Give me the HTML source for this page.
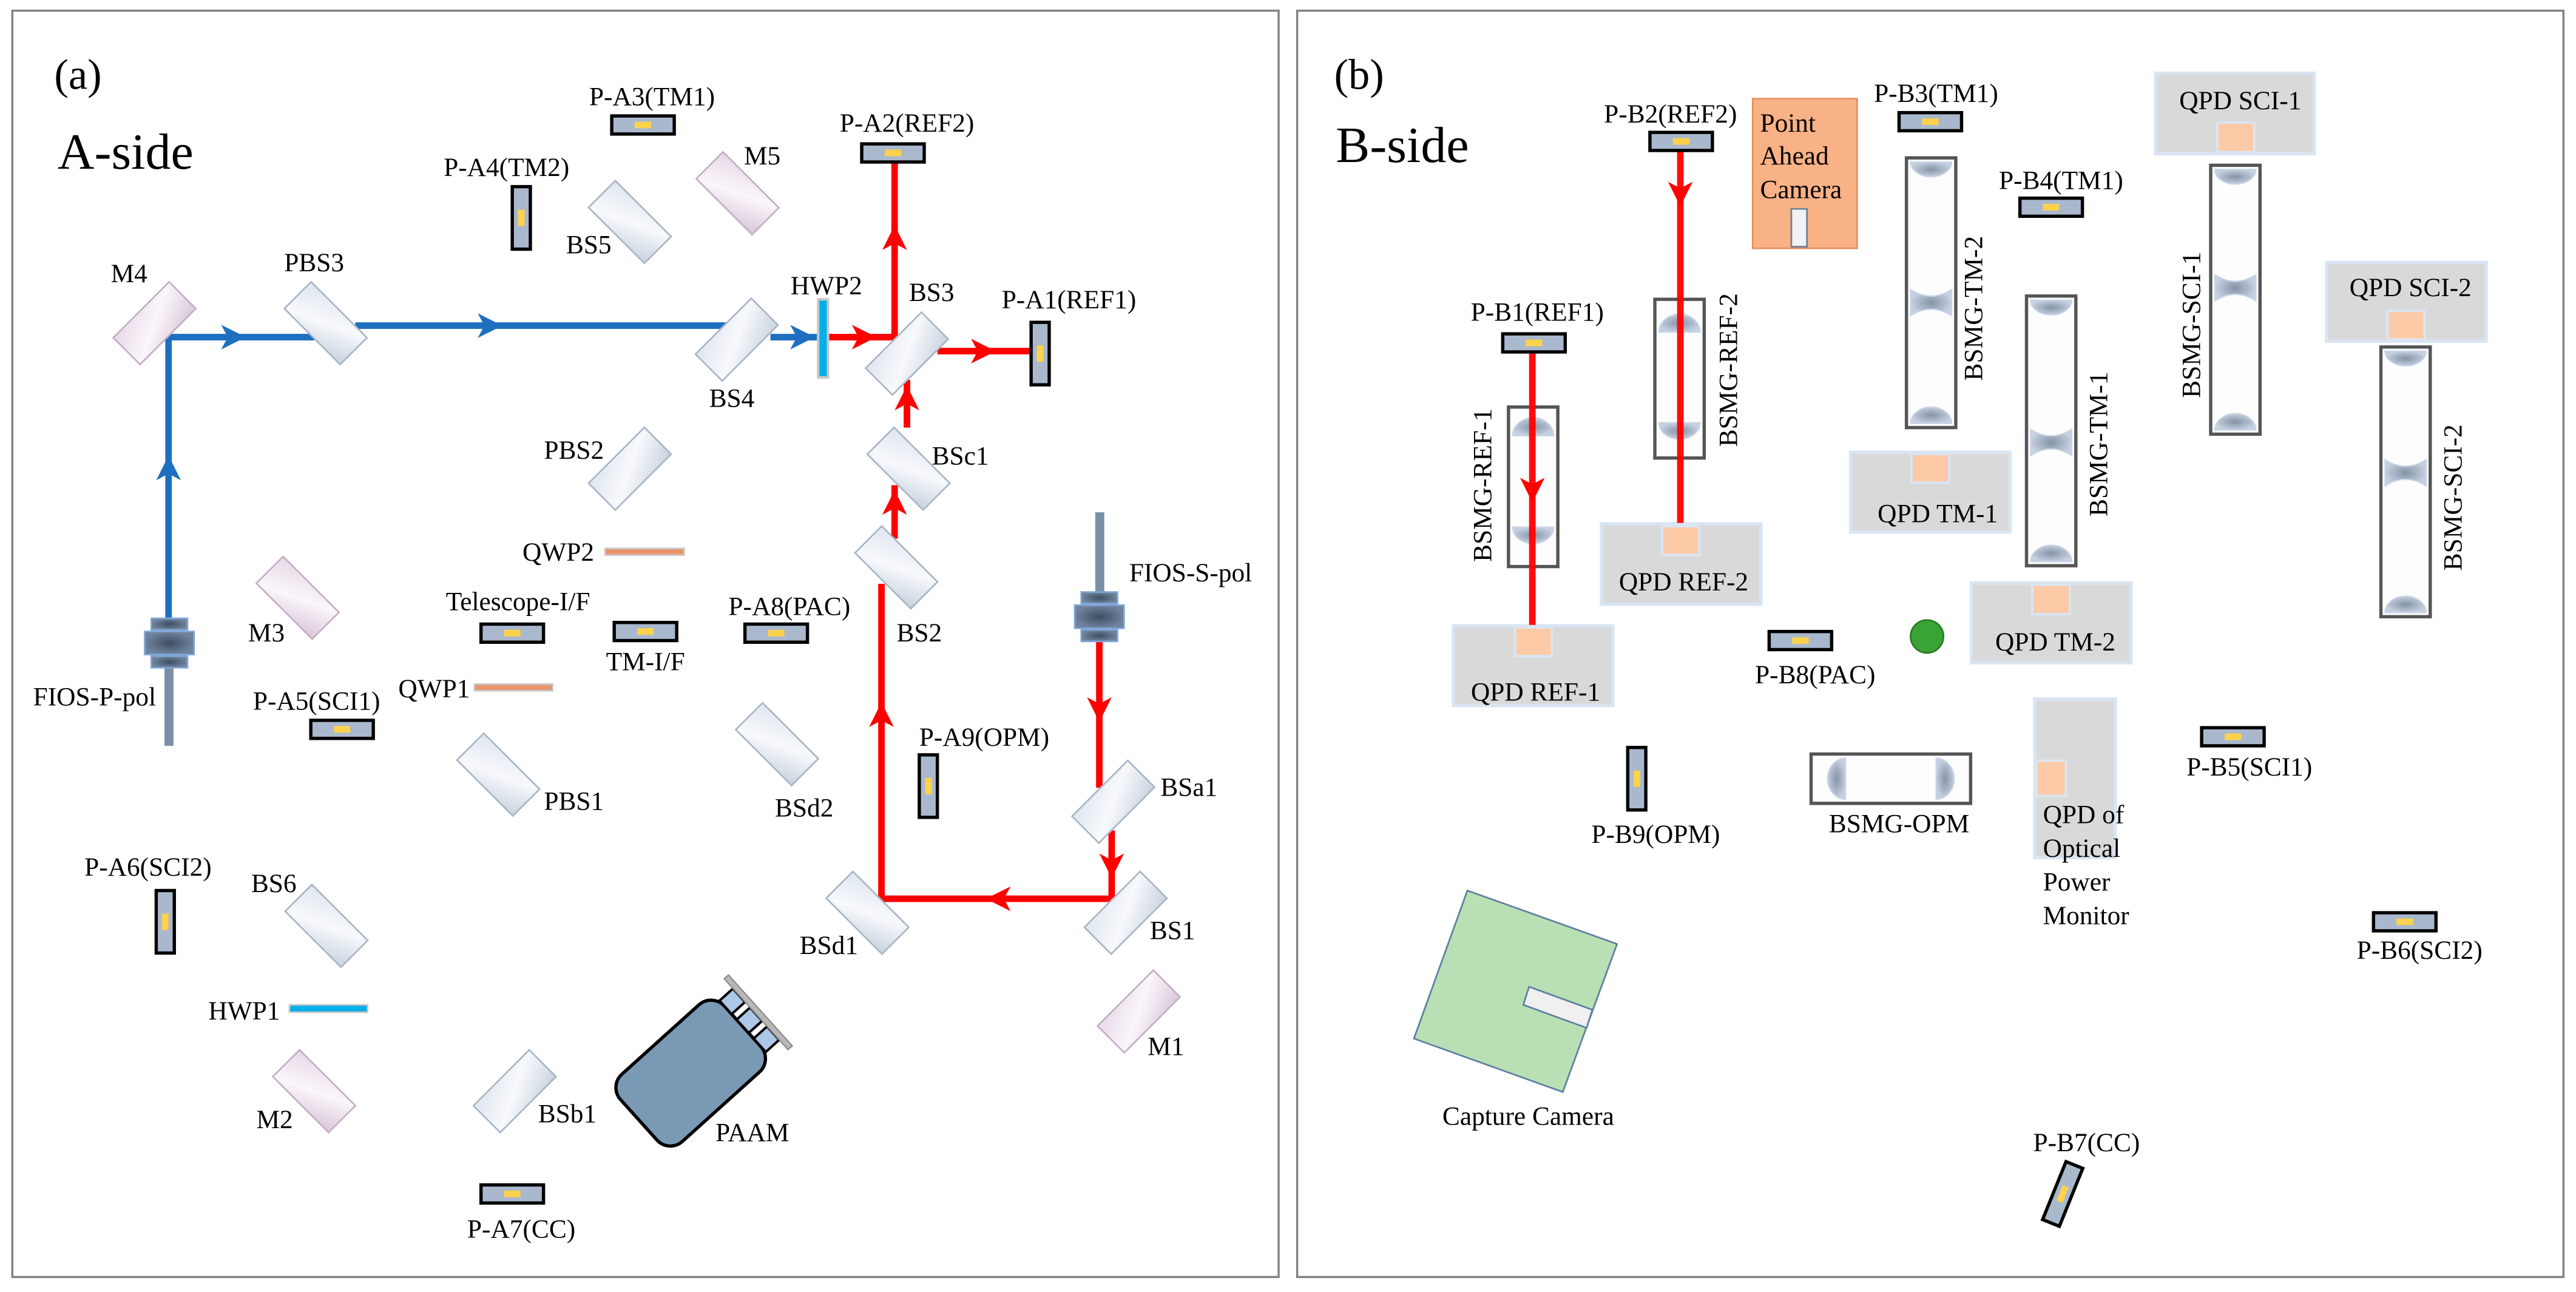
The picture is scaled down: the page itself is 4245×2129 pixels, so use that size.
<!DOCTYPE html>
<html><head><meta charset="utf-8"><style>html,body{margin:0;padding:0;background:#fff}svg{display:block}svg text{font-family:"Liberation Serif","Times New Roman",Times,"DejaVu Serif",serif !important}</style></head>
<body>
<svg xmlns="http://www.w3.org/2000/svg" xmlns:xlink="http://www.w3.org/1999/xlink" width="4245" height="2129" viewBox="0 0 4245 2129">
<defs>
<linearGradient id="mg" x1="0" y1="0" x2="1" y2="1"><stop offset="0" stop-color="#dfe6ef"/><stop offset="0.5" stop-color="#f7f9fc"/><stop offset="1" stop-color="#c9d3df"/></linearGradient>
<linearGradient id="pg" x1="0" y1="0" x2="1" y2="1"><stop offset="0" stop-color="#e6d8e6"/><stop offset="0.5" stop-color="#fbf6fb"/><stop offset="1" stop-color="#d8c6d8"/></linearGradient>
<radialGradient id="lg"><stop offset="0" stop-color="#8593a8"/><stop offset="1" stop-color="#c5d0e0"/></radialGradient>
<radialGradient id="cg"><stop offset="0" stop-color="#3d4e63"/><stop offset="1" stop-color="#6f849c"/></radialGradient>
<polygon id="ar" points="16,0 -14,-15 -6,0 -14,15"/>
<rect id="bs" x="-48" y="-23" width="96" height="46" fill="url(#mg)" stroke="#a9b6c6" stroke-width="2"/>
<rect id="mm" x="-48" y="-23" width="96" height="46" fill="url(#pg)" stroke="#c4afc4" stroke-width="2"/>
<g id="dh"><rect x="-38" y="-11" width="76" height="22" fill="#a9b8cc" stroke="#000" stroke-width="4"/><rect x="-10" y="-4" width="20" height="8" fill="#ffd24d"/></g>
<g id="dv"><rect x="-11" y="-38" width="22" height="76" fill="#a9b8cc" stroke="#000" stroke-width="4"/><rect x="-4" y="-10" width="8" height="20" fill="#ffd24d"/></g>
</defs>
<rect width="4245" height="2129" fill="#fff"/>

<g transform="scale(1.355)" font-size="32" fill="#000" font-family="Liberation Serif, Times New Roman, serif" style="font-family:'Liberation Serif','Times New Roman',serif">
<rect x="15" y="13" width="1540" height="1540" fill="none" stroke="#808080" stroke-width="2.5"/>
<text x="66" y="108" font-size="52">(a)</text>
<text x="70" y="205" font-size="62">A-side</text>

<g stroke="#1f6fc0" stroke-width="8" fill="none">
<path d="M205,752 V410 H382"/>
<path d="M432,396 H883"/>
<path d="M937,410 H1000"/>
</g>
<g fill="#1f6fc0">
<use xlink:href="#ar" transform="translate(205,570) rotate(-90)"/>
<use xlink:href="#ar" transform="translate(283,410)"/>
<use xlink:href="#ar" transform="translate(595,396)"/>
<use xlink:href="#ar" transform="translate(975,410)"/>
</g>
<g stroke="#ff0000" stroke-width="8" fill="none">
<path d="M1005,410 H1088 V197"/>
<path d="M1140,427 H1253"/>
<path d="M1103,520 V462"/>
<path d="M1088,655 V590"/>
<path d="M1072,710 V1093 H1352 V1010"/>
<path d="M1337,780 V958"/>
</g>
<g fill="#ff0000">
<use xlink:href="#ar" transform="translate(1050,410)"/>
<use xlink:href="#ar" transform="translate(1088,290) rotate(-90)"/>
<use xlink:href="#ar" transform="translate(1195,427)"/>
<use xlink:href="#ar" transform="translate(1103,485) rotate(-90)"/>
<use xlink:href="#ar" transform="translate(1088,612) rotate(-90)"/>
<use xlink:href="#ar" transform="translate(1072,870) rotate(-90)"/>
<use xlink:href="#ar" transform="translate(1215,1093) rotate(180)"/>
<use xlink:href="#ar" transform="translate(1337,862) rotate(90)"/>
<use xlink:href="#ar" transform="translate(1352,1052) rotate(90)"/>
</g>

<rect x="200" y="790" width="11" height="117" fill="#7a90a8"/>
<g transform="translate(206,782)"><rect x="-22" y="-30" width="44" height="14" fill="url(#cg)" stroke="#7fa5d8" stroke-width="2"/><rect x="-30" y="-14" width="60" height="28" fill="url(#cg)" stroke="#7fa5d8" stroke-width="2"/><rect x="-22" y="16" width="44" height="14" fill="url(#cg)" stroke="#7fa5d8" stroke-width="2"/></g>
<rect x="1332" y="623" width="11" height="100" fill="#7a90a8"/>
<g transform="translate(1337,750)"><rect x="-22" y="-30" width="44" height="14" fill="url(#cg)" stroke="#7fa5d8" stroke-width="2"/><rect x="-30" y="-14" width="60" height="28" fill="url(#cg)" stroke="#7fa5d8" stroke-width="2"/><rect x="-22" y="16" width="44" height="14" fill="url(#cg)" stroke="#7fa5d8" stroke-width="2"/></g>

<use xlink:href="#mm" transform="translate(897,235) rotate(45)"/>
<use xlink:href="#bs" transform="translate(766,270) rotate(45)"/>
<use xlink:href="#mm" transform="translate(188,393) rotate(-45)"/>
<use xlink:href="#bs" transform="translate(396,393) rotate(45)"/>
<use xlink:href="#bs" transform="translate(896,413) rotate(-45)"/>
<use xlink:href="#bs" transform="translate(1103,430) rotate(-45)"/>
<use xlink:href="#bs" transform="translate(766,570) rotate(-45)"/>
<use xlink:href="#bs" transform="translate(1105,570) rotate(45)"/>
<use xlink:href="#mm" transform="translate(362,727) rotate(45)"/>
<use xlink:href="#bs" transform="translate(1090,690) rotate(45)"/>
<use xlink:href="#bs" transform="translate(606,942) rotate(45)"/>
<use xlink:href="#bs" transform="translate(945,905) rotate(45)"/>
<use xlink:href="#bs" transform="translate(1354,975) rotate(-45)"/>
<use xlink:href="#bs" transform="translate(397,1126) rotate(45)"/>
<use xlink:href="#bs" transform="translate(1055,1110) rotate(45)"/>
<use xlink:href="#bs" transform="translate(1369,1110) rotate(-45)"/>
<use xlink:href="#mm" transform="translate(1385,1230) rotate(-45)"/>
<use xlink:href="#mm" transform="translate(382,1327) rotate(45)"/>
<use xlink:href="#bs" transform="translate(626,1327) rotate(-45)"/>

<rect x="995" y="364" width="12" height="95" fill="#00b0ea" stroke="#c8c8c8" stroke-width="3"/>
<rect x="352" y="1222" width="95" height="9" fill="#00b0ea" stroke="#c8c8c8" stroke-width="2"/>
<rect x="736" y="667" width="96" height="8" fill="#e8946a" stroke="#c8c8c8" stroke-width="2"/>
<rect x="577" y="832" width="95" height="8" fill="#e8946a" stroke="#c8c8c8" stroke-width="2"/>

<use xlink:href="#dh" transform="translate(782,152)"/>
<use xlink:href="#dh" transform="translate(1086,186)"/>
<use xlink:href="#dv" transform="translate(634,265)"/>
<use xlink:href="#dv" transform="translate(1265,430)"/>
<use xlink:href="#dh" transform="translate(623,770)"/>
<use xlink:href="#dh" transform="translate(785,768)"/>
<use xlink:href="#dh" transform="translate(944,770)"/>
<use xlink:href="#dh" transform="translate(416,887)"/>
<use xlink:href="#dv" transform="translate(1129,956)"/>
<use xlink:href="#dv" transform="translate(201,1121)"/>
<use xlink:href="#dh" transform="translate(623,1452)"/>

<g transform="translate(840,1305) rotate(-42)">
<rect x="-85" y="-55" width="170" height="110" rx="22" fill="#7a99b5" stroke="#000" stroke-width="4"/>
<g transform="translate(85,0)" stroke="#000" stroke-width="3" fill="#adc7e6">
<rect x="0" y="-42" width="22" height="22"/><rect x="0" y="-11" width="22" height="22"/><rect x="0" y="20" width="22" height="22"/>
</g>
<rect x="107" y="-58" width="7" height="116" fill="#b8b8b8" stroke="#888" stroke-width="1.5"/>
</g>

<g text-anchor="middle">
<text x="793" y="128">P-A3(TM1)</text>
<text x="1103" y="160">P-A2(REF2)</text>
<text x="616" y="214">P-A4(TM2)</text>
<text x="927" y="200">M5</text>
<text x="716" y="308">BS5</text>
<text x="157" y="343">M4</text>
<text x="382" y="330">PBS3</text>
<text x="890" y="495">BS4</text>
<text x="1005" y="358">HWP2</text>
<text x="1133" y="366">BS3</text>
<text x="1300" y="375">P-A1(REF1)</text>
<text x="698" y="558">PBS2</text>
<text x="1168" y="565">BSc1</text>
<text x="679" y="682">QWP2</text>
<text x="324" y="780">M3</text>
<text x="1118" y="780">BS2</text>
<text x="1448" y="707">FIOS-S-pol</text>
<text x="630" y="742">Telescope-I/F</text>
<text x="785" y="815">TM-I/F</text>
<text x="960" y="748">P-A8(PAC)</text>
<text x="115" y="858">FIOS-P-pol</text>
<text x="385" y="863">P-A5(SCI1)</text>
<text x="528" y="848">QWP1</text>
<text x="698" y="985">PBS1</text>
<text x="978" y="993">BSd2</text>
<text x="1197" y="907">P-A9(OPM)</text>
<text x="1446" y="968">BSa1</text>
<text x="180" y="1065">P-A6(SCI2)</text>
<text x="333" y="1085">BS6</text>
<text x="1008" y="1160">BSd1</text>
<text x="1426" y="1142">BS1</text>
<text x="297" y="1240">HWP1</text>
<text x="1418" y="1283">M1</text>
<text x="334" y="1372">M2</text>
<text x="690" y="1365">BSb1</text>
<text x="915" y="1388">PAAM</text>
<text x="634" y="1505">P-A7(CC)</text>
</g>
</g>

<g transform="translate(2120,0) scale(1.355)" font-size="32" fill="#000" font-family="Liberation Serif, Times New Roman, serif" style="font-family:'Liberation Serif','Times New Roman',serif">
<rect x="13" y="13" width="1540" height="1540" fill="none" stroke="#808080" stroke-width="2.5"/>
<text x="58" y="108" font-size="52">(b)</text>
<text x="60" y="197" font-size="62">B-side</text>

<g fill="#d9d9d9" stroke="#dae5f3" stroke-width="4">
<rect x="1057" y="89" width="193" height="98"/>
<rect x="1265" y="319" width="194" height="96"/>
<rect x="383" y="637" width="194" height="98"/>
<rect x="686" y="550" width="194" height="97"/>
<rect x="203" y="761" width="194" height="97"/>
<rect x="833" y="709" width="194" height="97"/>
<rect x="910" y="850" width="98" height="193"/>
</g>
<g fill="#fdcaa8" stroke="#dae5f3" stroke-width="3">
<rect x="1132" y="149" width="45" height="36"/>
<rect x="1339" y="378" width="45" height="35"/>
<rect x="457" y="640" width="45" height="35"/>
<rect x="760" y="552" width="46" height="35"/>
<rect x="278" y="763" width="45" height="35"/>
<rect x="907" y="711" width="46" height="36"/>
<rect x="912" y="925" width="36" height="43"/>
</g>

<rect x="567" y="120" width="127" height="182" fill="#f9b186" stroke="#e58f5f" stroke-width="2"/>
<rect x="614" y="254" width="19" height="46" fill="#f2f2f2" stroke="#6f8096" stroke-width="2"/>
<text x="576" y="160">Point</text><text x="576" y="200">Ahead</text><text x="576" y="241">Camera</text>

<g fill="#fdfdfe" stroke="#555" stroke-width="4">
<rect x="754" y="192" width="60" height="328"/>
<rect x="900" y="360" width="60" height="328"/>
<rect x="1124" y="201" width="60" height="327"/>
<rect x="1331" y="422" width="60" height="328"/>
<rect x="270" y="495" width="60" height="194"/>
<rect x="448" y="364" width="60" height="193"/>
<rect x="638" y="917" width="194" height="60"/>
</g>
<g fill="url(#lg)" stroke="#c9d6e6" stroke-width="1.5">
<path d="M759,197 H809 A25,18 0 0 1 759,197Z"/>
<path d="M759,352 Q784,368 809,352 V384 Q784,368 759,384Z"/>
<path d="M759,515 A25,20 0 0 1 809,515Z"/>
<path d="M905,365 H955 A25,18 0 0 1 905,365Z"/>
<path d="M905,522 Q930,538 955,522 V554 Q930,538 905,554Z"/>
<path d="M905,683 A25,20 0 0 1 955,683Z"/>
<path d="M1129,206 H1179 A25,18 0 0 1 1129,206Z"/>
<path d="M1129,334 Q1154,350 1179,334 V366 Q1154,350 1129,366Z"/>
<path d="M1129,523 A25,20 0 0 1 1179,523Z"/>
<path d="M1336,427 H1386 A25,18 0 0 1 1336,427Z"/>
<path d="M1336,559 Q1361,575 1386,559 V591 Q1361,575 1336,591Z"/>
<path d="M1336,745 A25,20 0 0 1 1386,745Z"/>
<path d="M275,530 A25,22 0 0 1 325,530Z"/>
<path d="M275,641 H325 A25,20 0 0 1 275,641Z"/>
<path d="M453,404 A25,22 0 0 1 503,404Z"/>
<path d="M453,514 H503 A25,20 0 0 1 453,514Z"/>
<path d="M680,922 V972 A22,25 0 0 1 680,922Z"/>
<path d="M790,922 V972 A22,25 0 0 0 790,922Z"/>
</g>

<g stroke="#ff0000" stroke-width="8" fill="none" opacity="0.95">
<path d="M479,183 V636"/>
<path d="M299,430 V760"/>
</g>
<g fill="#ff0000">
<use xlink:href="#ar" transform="translate(479,235) rotate(90)"/>
<use xlink:href="#ar" transform="translate(299,595) rotate(90)"/>
</g>

<use xlink:href="#dh" transform="translate(480,172)"/>
<use xlink:href="#dh" transform="translate(783,148)"/>
<use xlink:href="#dh" transform="translate(930,252)"/>
<use xlink:href="#dh" transform="translate(301,417)"/>
<use xlink:href="#dh" transform="translate(625,779)"/>
<use xlink:href="#dv" transform="translate(426,947)"/>
<use xlink:href="#dh" transform="translate(1151,896)"/>
<use xlink:href="#dh" transform="translate(1360,1121)"/>
<use xlink:href="#dv" transform="translate(944,1452) rotate(22)"/>

<circle cx="779" cy="774" r="20" fill="#3aa335" stroke="#2a7a25" stroke-width="2"/>

<polygon points="220,1083 402,1148 336,1328 155,1263" fill="#b9e0b4" stroke="#5b7fa0" stroke-width="2"/>
<polygon points="295,1200 372,1228 365,1250 288,1222" fill="#f0f0f0" stroke="#5b7fa0" stroke-width="2"/>

<g text-anchor="middle">
<text x="467" y="149">P-B2(REF2)</text>
<text x="790" y="124">P-B3(TM1)</text>
<text x="942" y="230">P-B4(TM1)</text>
<text x="1160" y="133">QPD SCI-1</text>
<text x="1367" y="360">QPD SCI-2</text>
<text x="305" y="390">P-B1(REF1)</text>
<text x="483" y="718">QPD REF-2</text>
<text x="792" y="635">QPD TM-1</text>
<text x="303" y="852">QPD REF-1</text>
<text x="935" y="791">QPD TM-2</text>
<text x="643" y="831">P-B8(PAC)</text>
<text x="449" y="1025">P-B9(OPM)</text>
<text x="745" y="1012">BSMG-OPM</text>
<text x="1171" y="943">P-B5(SCI1)</text>
<text x="1378" y="1166">P-B6(SCI2)</text>
<text x="294" y="1368">Capture Camera</text>
<text x="973" y="1400">P-B7(CC)</text>
<text transform="translate(846,375) rotate(-90)">BSMG-TM-2</text>
<text transform="translate(998,540) rotate(-90)">BSMG-TM-1</text>
<text transform="translate(1111,395) rotate(-90)">BSMG-SCI-1</text>
<text transform="translate(1429,605) rotate(-90)">BSMG-SCI-2</text>
<text transform="translate(249,590) rotate(-90)">BSMG-REF-1</text>
<text transform="translate(548,450) rotate(-90)">BSMG-REF-2</text>
</g>
<text x="920" y="1001">QPD of</text>
<text x="920" y="1042">Optical</text>
<text x="920" y="1083">Power</text>
<text x="920" y="1124">Monitor</text>
</g>
</svg>
</body></html>
